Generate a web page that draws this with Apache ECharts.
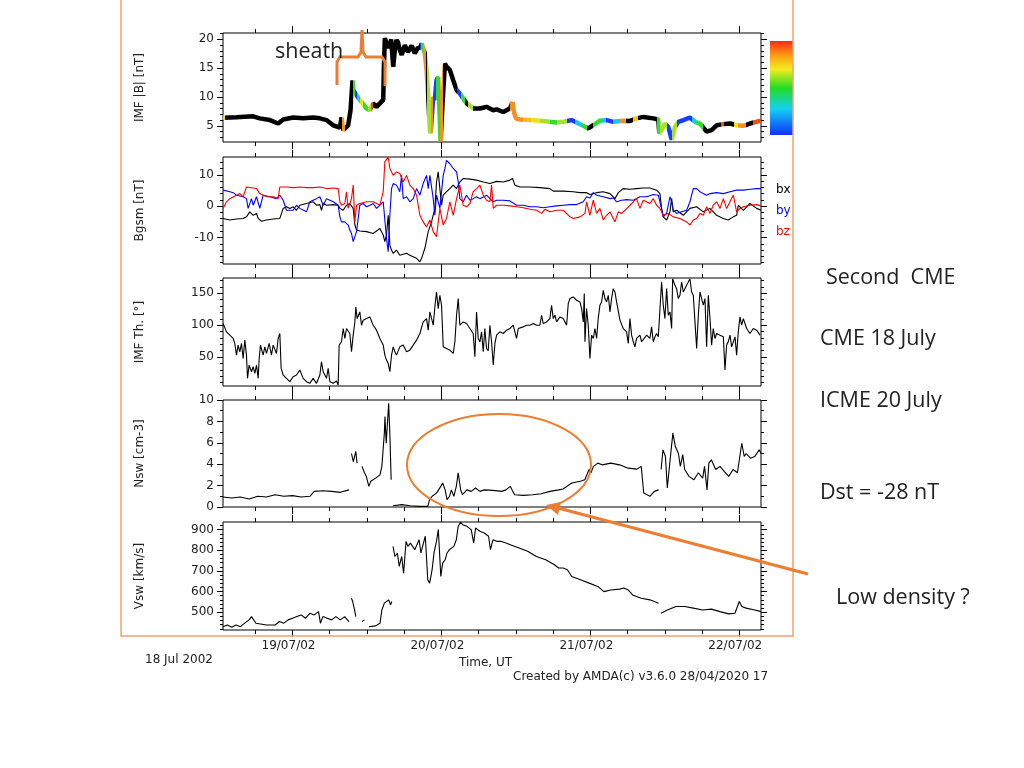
<!DOCTYPE html>
<html>
<head>
<meta charset="utf-8">
<script src="https://cdn.jsdelivr.net/npm/echarts@6/dist/echarts.min.js"></script>
<style>
html, body { margin: 0; padding: 0; background: #fff; }
#chart { width: 1024px; height: 768px; }
</style>
</head>
<body>
<div id="chart"></div>
<script>
// time is in hours from 19/07/2002 00:00 UT
var dayTicks = [0, 24, 48, 72];
var dayLabels = ['19/07/02', '20/07/02', '21/07/02', '22/07/02'];

// IMF |B| [nT]
var bMag = [[-11.18,6.4],[-9.03,6.5],[-6.34,6.65],[-5.27,6.3],[-3.65,6.0],[-2.31,5.4],[-1.5,6.1],[0.11,6.45],[1.72,6.3],[3.33,6.45],[4.41,6.3],[5.48,6.0],[6.56,5.1],[7.63,4.7],[7.9,6.45],[8.17,4.25],[8.97,5.1],[9.35,7.7],[9.67,12.9],[9.78,11.2],[10.05,11.2],[10.32,10.3],[10.85,9.5],[11.93,8.0],[12.47,7.7],[13.0,8.9],[13.54,8.3],[14.08,8.9],[14.62,9.5],[14.72,14.7],[14.88,20.2],[15.15,20.2],[15.4,18.5],[15.69,19.3],[15.9,20.0],[16.23,15.25],[16.5,18.2],[16.76,19.9],[17.0,19.5],[17.3,18.1],[17.6,17.3],[17.84,17.0],[18.1,19.0],[18.38,18.7],[18.6,17.8],[18.91,17.6],[19.2,18.9],[19.45,18.7],[19.7,17.6],[19.99,18.1],[20.2,18.6],[20.53,18.4],[20.8,19.3],[21.33,17.6],[21.6,14.7],[21.87,10.0],[22.14,4.25],[22.25,3.7],[22.68,10.0],[22.94,9.5],[23.21,12.9],[23.48,13.5],[23.64,8.9],[23.86,2.3],[24.18,8.9],[24.56,15.8],[24.82,15.25],[25.36,14.7],[25.9,12.9],[26.44,11.2],[26.97,10.6],[28.05,8.9],[29.12,8.0],[30.2,8.0],[31.27,8.3],[32.35,7.7],[32.89,7.85],[33.96,7.4],[35.03,8.0],[35.46,9.1],[35.68,7.4],[36.0,6.3],[36.65,6.1],[38.26,6.0],[39.87,5.9],[41.48,5.7],[42.56,5.6],[43.64,5.7],[44.98,6.0],[46.32,5.3],[47.66,4.55],[48.47,5.1],[49.54,5.9],[50.62,6.0],[51.69,5.7],[53.3,5.9],[54.38,5.85],[55.45,6.3],[56.53,6.55],[58.14,6.3],[58.95,6.1],[59.11,3.7],[59.48,4.25],[60.02,5.4],[60.56,4.8],[61.1,2.6],[61.63,4.8],[62.17,5.7],[62.98,6.0],[64.05,6.45],[64.86,5.7],[65.66,5.4],[66.74,4.0],[67.54,4.25],[68.35,5.1],[69.43,5.3],[70.5,5.4],[71.57,5.1],[72.65,5.0],[73.72,5.4],[75.5,5.9]];

// colour-coded stretches of the |B| trace: [from, to, colour]; the rest is black
var bColourBands = [[-11.3,-10.9,'yellow'],[7.95,8.4,'orange'],[9.78,10.0,'green'],[10.0,10.4,'blue'],[10.4,10.85,'cyan'],[10.85,11.4,'yellow'],[11.4,12.2,'green'],[12.2,12.6,'lime'],[12.6,13.0,'red'],[20.5,20.75,'blue'],[20.75,21.1,'green'],[21.1,21.5,'orange'],[21.7,22.25,'lime'],[22.25,22.6,'orange'],[22.6,23.2,'blue'],[23.2,23.75,'green'],[23.75,24.2,'orange'],[26.5,27.1,'blue'],[27.1,27.8,'green'],[28.3,29.1,'lime'],[35.1,37.2,'orange'],[37.2,38.5,'amber'],[38.5,39.9,'yellow'],[39.9,41.5,'lime'],[41.5,42.6,'green'],[42.6,44.2,'lime'],[44.2,45.5,'blue'],[45.5,46.6,'cyan'],[46.6,47.4,'green'],[48.5,49.8,'green'],[49.8,50.6,'cyan'],[50.6,51.7,'blue'],[51.7,52.8,'cyan'],[52.8,53.8,'orange'],[54.9,55.7,'amber'],[58.7,59.2,'green'],[59.2,60.3,'lime'],[60.3,61.2,'blue'],[61.2,61.9,'lime'],[61.9,64.3,'blue'],[64.3,65.1,'cyan'],[65.1,66.2,'green'],[69.0,69.6,'red'],[71.1,71.8,'yellow'],[71.8,73.1,'orange'],[74.2,75.6,'red']];

// Bgsm components [nT]
var bx = [[-11.18,-3.9],[-10.1,-4.4],[-9.03,-4.1],[-7.95,-3.9],[-7.42,-3.4],[-6.88,-1.8],[-6.34,-2.9],[-5.8,-2.3],[-5.53,-3.9],[-5.0,-4.8],[-4.19,-4.4],[-3.12,-4.1],[-2.04,-3.9],[-1.77,-2.3],[-1.5,-0.7],[-0.97,-0.2],[-0.43,-0.7],[0.11,-0.2],[0.64,-1.3],[1.18,0.3],[2.26,0.85],[3.33,1.4],[3.87,0.3],[4.41,0.5],[4.67,-1.3],[4.94,0.85],[5.48,0.3],[6.56,0.5],[7.36,0.3],[7.63,-0.7],[8.17,-1.3],[8.7,0.3],[9.24,0.85],[9.78,-0.7],[10.05,-6.0],[10.32,-7.6],[10.85,-7.9],[11.93,-8.1],[13.0,-8.7],[13.54,-7.9],[14.08,-7.1],[14.62,-9.2],[14.88,-11.3],[15.15,-9.2],[15.42,-2.9],[15.69,-12.4],[15.96,-14.0],[16.23,-15.0],[16.76,-14.0],[17.3,-15.6],[18.38,-15.0],[18.91,-15.6],[19.45,-16.1],[19.99,-16.6],[20.53,-17.7],[20.8,-16.6],[21.33,-13.4],[21.87,-8.1],[22.41,-5.0],[22.94,-0.7],[23.21,7.7],[23.48,10.9],[23.75,5.6],[24.02,0.3],[24.29,3.5],[24.82,4.6],[25.36,5.6],[25.9,6.7],[26.44,5.6],[26.97,7.7],[27.51,8.8],[28.59,8.6],[29.66,8.3],[30.74,7.7],[31.81,7.2],[32.89,7.9],[33.96,7.7],[35.03,8.3],[35.46,8.8],[35.84,6.7],[36.65,6.1],[38.26,6.1],[39.87,5.9],[41.48,5.6],[42.02,4.8],[43.64,4.8],[45.24,4.6],[46.32,4.3],[47.39,4.3],[47.93,3.7],[49.01,4.3],[50.08,4.6],[51.16,4.0],[51.96,2.4],[52.5,4.3],[53.3,5.6],[54.38,5.4],[55.45,5.6],[56.53,5.8],[57.6,5.8],[58.68,5.1],[59.21,4.0],[59.48,-0.7],[59.75,-3.4],[60.29,-4.4],[60.83,-1.8],[61.1,2.4],[61.36,-1.8],[61.9,-1.3],[62.98,-2.9],[64.05,-0.7],[65.13,-0.2],[66.2,-1.8],[67.28,-0.7],[68.35,-2.9],[69.43,-3.9],[70.23,-4.4],[71.04,-3.4],[71.57,-2.9],[71.84,0.3],[72.65,-1.3],[73.72,0.85],[74.8,-0.7],[75.5,-1.3]];
var by = [[-11.18,5.1],[-10.1,4.6],[-9.56,4.3],[-9.03,3.5],[-7.95,3.0],[-7.42,2.4],[-7.15,-0.7],[-6.88,-1.3],[-6.61,2.4],[-6.34,0.3],[-5.8,3.0],[-5.27,-0.7],[-4.73,3.5],[-3.65,3.0],[-2.58,2.4],[-2.04,3.5],[-1.5,1.9],[-0.97,-1.3],[0.11,-1.3],[0.64,0.3],[1.18,-0.7],[2.26,-1.8],[2.79,1.4],[3.87,2.4],[4.41,3.0],[4.94,0.3],[5.48,2.4],[6.56,1.4],[7.36,0.3],[7.63,-3.4],[7.9,-5.0],[8.44,-5.0],[8.97,-6.0],[9.24,-7.6],[9.51,-8.7],[9.78,-11.3],[10.32,-8.1],[10.85,0.3],[11.39,0.85],[11.93,-0.2],[12.47,0.3],[13.0,0.85],[13.54,-0.7],[14.08,0.3],[14.62,1.4],[14.88,1.4],[15.15,-10.3],[15.42,-14.5],[15.69,-2.9],[15.96,5.6],[16.23,7.2],[16.76,6.7],[17.3,4.6],[17.57,9.8],[17.84,2.4],[18.38,3.0],[18.91,1.4],[19.45,2.4],[19.99,5.6],[20.53,3.5],[21.06,7.2],[21.6,9.8],[21.87,5.6],[22.14,9.8],[22.68,2.4],[22.94,-2.9],[23.21,3.5],[23.75,-0.7],[24.29,9.8],[24.56,12.0],[24.82,14.6],[25.36,13.5],[25.9,12.0],[26.44,10.9],[26.71,7.7],[26.97,2.4],[27.51,1.4],[28.05,3.5],[28.59,1.9],[29.12,2.4],[29.66,3.0],[30.2,2.4],[31.27,3.5],[32.35,1.4],[32.89,1.9],[33.96,1.9],[35.03,1.7],[36.11,0.3],[37.18,0.3],[38.26,-0.2],[39.33,-0.2],[40.41,-0.5],[41.48,-0.2],[42.56,0.1],[43.64,0.3],[44.71,0.5],[45.78,0.5],[46.86,1.4],[47.39,3.0],[47.93,2.6],[48.47,4.3],[49.01,3.5],[50.08,3.0],[51.16,2.4],[51.69,2.6],[52.23,1.4],[53.04,1.9],[53.84,2.1],[54.92,1.9],[55.99,3.0],[57.07,3.0],[58.14,3.7],[58.95,3.5],[59.21,1.4],[59.75,-3.4],[60.29,-2.3],[60.83,3.0],[61.1,1.4],[61.36,-1.3],[61.9,-2.3],[62.71,-1.8],[63.52,-1.3],[64.05,1.4],[64.59,5.6],[65.13,5.6],[65.66,4.6],[66.2,4.0],[66.74,3.5],[67.28,4.0],[68.35,4.3],[69.43,4.0],[70.5,4.6],[71.57,5.1],[72.65,5.1],[73.72,5.4],[74.8,5.6],[75.5,5.6]];
var bz = [[-11.18,-0.7],[-10.64,1.4],[-10.1,2.4],[-9.03,3.5],[-8.49,4.0],[-7.95,3.0],[-7.42,6.1],[-6.34,5.8],[-5.8,5.6],[-5.27,4.0],[-4.19,3.0],[-3.12,3.0],[-2.31,2.4],[-2.04,6.1],[-0.97,6.1],[0.11,5.9],[1.18,6.1],[2.26,5.9],[3.33,5.9],[4.41,6.1],[5.48,5.6],[6.56,5.8],[7.36,5.6],[7.63,1.4],[7.9,0.3],[8.44,0.85],[8.7,4.6],[8.97,-0.7],[9.51,2.4],[9.78,6.7],[10.05,-5.0],[10.32,0.3],[10.85,0.85],[11.93,1.4],[13.0,1.4],[14.08,0.3],[14.62,4.6],[14.88,14.1],[15.15,14.6],[15.42,15.6],[15.69,12.0],[16.23,9.8],[16.76,10.9],[17.3,10.4],[17.84,7.7],[18.38,9.8],[18.91,6.7],[19.45,5.6],[19.99,3.5],[20.53,-2.9],[21.06,-5.0],[21.6,-6.6],[22.14,-4.4],[22.68,-8.1],[23.21,-9.7],[23.75,-0.7],[24.29,-6.0],[24.82,-3.9],[25.36,1.4],[25.9,-2.9],[26.44,2.4],[26.97,6.7],[27.51,0.3],[28.05,-0.2],[28.59,0.85],[29.12,4.6],[29.66,5.6],[30.2,6.7],[30.74,3.5],[31.27,1.9],[31.81,1.4],[32.08,6.7],[32.35,-0.7],[32.89,0.3],[33.96,0.3],[35.03,0.1],[36.11,-0.2],[37.18,-0.5],[38.26,-1.0],[39.33,-1.3],[40.14,-2.3],[40.67,-1.0],[41.48,-1.8],[42.56,-1.3],[43.64,-1.3],[44.71,-3.4],[45.24,-3.9],[46.32,-3.4],[47.13,-2.3],[47.39,1.4],[47.93,-2.9],[48.47,1.9],[49.01,-2.3],[49.54,-0.7],[50.08,-4.4],[50.62,-2.9],[51.16,-1.8],[51.96,-5.0],[52.5,-1.8],[53.04,-2.3],[53.57,-1.3],[54.38,0.3],[55.45,2.4],[55.99,-0.7],[56.53,1.9],[57.6,0.85],[58.14,2.4],[58.68,0.3],[59.21,-0.7],[59.75,-2.9],[60.56,-2.3],[61.36,-3.4],[62.44,-3.9],[63.52,-5.0],[64.05,-6.0],[64.59,-4.4],[65.13,-3.9],[65.66,-2.3],[66.2,-2.9],[66.74,-0.2],[67.28,-2.3],[67.81,0.3],[68.35,1.4],[68.89,-0.7],[69.43,2.4],[69.96,-0.7],[70.5,1.4],[71.04,3.5],[71.57,-1.8],[72.11,-0.7],[72.65,-0.2],[73.72,0.3],[74.8,0.5],[75.5,0.1]];

// IMF theta [deg]
var theta = [[-11.18,102.6],[-10.64,89.6],[-10.1,84.4],[-9.56,79.2],[-9.3,71.4],[-9.03,53.1],[-8.76,68.8],[-8.49,58.3],[-8.22,71.4],[-7.95,47.9],[-7.68,76.6],[-7.42,53.1],[-7.25,16.7],[-6.99,37.5],[-6.61,27.1],[-6.34,34.9],[-6.07,24.5],[-5.8,37.5],[-5.53,16.7],[-5.37,47.9],[-5.16,68.8],[-4.73,53.1],[-4.46,66.1],[-4.19,55.7],[-3.76,71.4],[-3.39,53.1],[-3.12,68.8],[-2.85,66.1],[-2.58,55.7],[-2.31,79.2],[-2.04,87.0],[-1.83,32.3],[-1.5,21.9],[-0.97,16.7],[-0.43,11.5],[0.11,19.3],[0.64,21.9],[1.18,29.7],[1.72,16.7],[2.26,11.5],[2.79,8.9],[3.33,16.7],[3.87,8.9],[4.41,21.9],[4.67,42.7],[4.94,27.1],[5.48,16.7],[5.75,32.3],[6.02,11.5],[6.56,8.9],[7.09,12.5],[7.36,6.3],[7.52,68.8],[7.9,74.0],[8.17,94.8],[8.44,79.2],[8.7,94.8],[9.24,87.0],[9.51,58.3],[9.78,84.4],[10.05,105.2],[10.21,128.6],[10.42,110.4],[10.85,120.8],[11.12,100.0],[11.39,107.8],[11.93,110.4],[12.47,113.0],[13.0,100.0],[13.54,92.2],[14.08,79.2],[14.62,68.8],[14.88,53.1],[15.15,45.3],[15.42,40.1],[15.69,27.1],[15.96,53.1],[16.23,66.1],[16.5,58.3],[16.76,53.1],[17.3,66.1],[17.84,68.8],[18.38,58.3],[18.91,60.9],[19.45,68.8],[19.99,76.6],[20.53,87.0],[21.06,105.2],[21.6,110.4],[21.87,92.2],[22.14,120.8],[22.68,100.0],[22.94,128.6],[23.21,152.1],[23.48,126.0],[23.75,146.9],[24.02,131.3],[24.29,66.1],[24.82,63.5],[25.36,60.9],[25.9,55.7],[26.17,74.0],[26.44,115.6],[26.71,141.7],[26.97,100.0],[27.51,105.2],[28.05,102.6],[28.59,94.8],[29.12,87.0],[29.39,50.5],[29.66,120.8],[29.93,79.2],[30.2,74.0],[30.47,89.6],[30.74,58.3],[31.0,94.8],[31.27,63.5],[31.54,60.0],[31.81,100.0],[32.08,74.0],[32.35,37.5],[32.62,71.4],[32.89,84.4],[33.42,89.6],[33.96,87.0],[34.5,92.2],[35.03,94.8],[35.57,100.0],[35.84,89.6],[36.11,79.2],[36.38,94.8],[36.65,92.2],[37.18,97.4],[37.72,100.0],[38.26,100.0],[38.8,102.6],[39.33,100.0],[39.87,100.0],[40.14,115.6],[40.41,102.6],[40.95,105.2],[41.48,110.4],[41.75,131.3],[42.02,110.4],[42.29,115.6],[42.56,105.2],[43.1,113.0],[43.64,110.4],[44.17,100.0],[44.44,133.9],[44.71,141.7],[45.24,144.3],[45.78,139.1],[46.32,136.5],[46.59,126.0],[46.86,105.2],[47.02,149.5],[47.13,74.0],[47.39,126.0],[47.66,100.0],[47.93,47.9],[48.2,84.4],[48.47,79.2],[48.74,94.8],[49.01,79.2],[49.27,110.4],[49.54,131.3],[49.81,136.5],[50.08,154.7],[50.35,141.7],[50.62,136.5],[50.89,146.9],[51.16,120.8],[51.42,141.7],[51.69,157.3],[51.96,152.1],[52.23,136.5],[52.77,108.0],[53.3,94.8],[53.84,89.6],[54.11,71.4],[54.38,110.4],[54.65,84.4],[54.92,74.0],[55.19,66.1],[55.45,79.2],[55.99,84.4],[56.26,74.0],[56.53,76.6],[57.07,84.4],[57.6,79.2],[57.87,97.4],[58.14,74.0],[58.41,81.8],[58.68,87.0],[58.95,81.8],[59.21,84.4],[59.48,167.7],[59.75,131.3],[60.02,110.4],[60.29,157.3],[60.56,115.6],[60.83,120.8],[61.1,94.8],[61.26,172.9],[61.63,162.5],[61.9,157.3],[62.17,141.7],[62.44,146.9],[62.71,167.7],[62.98,152.1],[63.52,162.5],[64.05,172.9],[64.32,152.1],[64.59,146.9],[64.86,105.2],[65.13,63.5],[65.4,115.6],[65.66,152.1],[65.93,141.7],[66.2,131.3],[66.47,141.7],[66.74,66.1],[67.01,146.9],[67.28,110.4],[67.54,68.8],[67.81,94.8],[68.08,79.2],[68.35,87.0],[68.89,84.4],[69.43,81.8],[69.69,29.7],[69.96,68.8],[70.23,74.0],[70.5,84.4],[70.77,66.1],[71.31,81.8],[71.57,53.1],[71.84,89.6],[72.11,113.0],[72.38,100.0],[72.65,110.4],[73.19,94.8],[73.72,87.0],[74.26,94.8],[74.8,92.2],[75.34,84.4]];

// solar wind density [cm-3], null = data gap
var nsw = [[-11.2,0.93],[-9.8,0.84],[-8.4,0.93],[-7.0,0.75],[-5.6,1.0],[-4.2,0.93],[-2.8,1.15],[-1.4,1.0],[0,1.06],[1.4,0.93],[2.8,1.0],[3.5,1.46],[4.9,1.52],[6.3,1.46],[7.7,1.37],[9.1,1.6],[9.3,null],[9.5,5.0],[9.8,4.25],[10.2,5.2],[10.4,4.1],[10.8,null],[11.2,3.8],[11.6,3.2],[11.9,2.86],[12.3,1.93],[12.6,2.4],[13.4,2.7],[14.1,3.0],[14.4,3.8],[14.8,6.9],[14.9,8.45],[15.1,5.96],[15.5,9.7],[15.7,6.6],[15.9,2.55],[16.0,null],[16.2,0.12],[17.6,0.22],[19.0,0.12],[20.4,0.06],[21.8,0.06],[22.1,0.68],[22.5,1.0],[23.2,1.3],[23.9,1.93],[24.2,2.24],[24.6,1.6],[24.9,0.68],[25.3,1.0],[25.6,1.6],[26.0,1.0],[26.4,1.93],[26.7,3.2],[27.1,1.6],[27.4,1.15],[28.1,1.6],[28.8,1.46],[29.5,1.77],[30.2,1.46],[30.9,1.6],[32.3,1.55],[33.7,1.46],[34.4,1.6],[35.1,1.93],[35.5,1.46],[35.8,1.15],[37.2,1.09],[38.7,1.15],[40.1,1.24],[41.5,1.46],[42.9,1.6],[43.6,1.68],[45.0,2.24],[46.4,2.4],[47.1,2.55],[47.8,3.5],[48.1,3.2],[48.5,3.8],[49.2,4.1],[49.9,3.94],[51.3,4.1],[52.7,3.94],[54.1,3.63],[55.5,3.54],[56.2,3.8],[56.6,1.3],[56.9,1.15],[57.6,1.0],[58.3,1.46],[59.0,1.6],[59.2,null],[59.4,3.5],[59.7,5.34],[60.1,4.72],[60.4,1.77],[60.8,4.1],[61.3,6.9],[61.7,5.65],[62.2,5.0],[62.5,3.8],[62.9,4.9],[63.2,3.5],[63.9,2.86],[64.7,2.55],[65.4,3.2],[66.1,2.7],[66.4,3.8],[66.8,1.6],[67.1,4.1],[67.5,4.41],[68.2,3.5],[68.9,3.8],[69.6,3.3],[70.3,2.86],[71.0,3.5],[71.7,3.2],[72.4,5.96],[72.8,4.72],[73.1,5.0],[73.8,4.56],[74.5,4.72],[75.2,5.34],[75.5,5.0]];

// solar wind speed [km/s], null = data gap
var vsw = [[-11.2,430],[-10.5,438],[-9.8,427],[-9.1,438],[-8.4,430],[-7.7,447],[-7.0,463],[-6.6,479],[-6.3,487],[-5.9,447],[-5.6,438],[-4.2,438],[-2.8,438],[-2.1,455],[-1.4,447],[-0.7,463],[0,471],[0.7,479],[1.4,487],[2.1,471],[2.8,495],[3.5,487],[4.2,503],[4.5,447],[4.9,479],[5.6,471],[6.3,463],[7.0,479],[7.7,463],[8.4,479],[9.1,455],[9.3,null],[9.5,568],[9.7,552],[10.0,511],[10.2,479],[10.4,null],[11.2,455],[11.6,463],[11.8,null],[12.3,430],[13.4,434],[14.1,447],[14.4,511],[14.8,544],[15.1,536],[15.5,560],[15.8,536],[16.0,552],[16.1,null],[16.2,819],[16.5,770],[16.9,787],[17.2,722],[17.6,770],[17.9,689],[18.3,843],[18.6,819],[19.0,835],[19.7,803],[20.4,851],[20.7,787],[21.1,835],[21.4,868],[21.8,657],[22.1,641],[22.5,706],[22.8,787],[23.2,843],[23.5,900],[23.9,673],[24.2,738],[24.6,754],[24.9,787],[25.3,803],[26.0,819],[26.4,851],[26.7,916],[27.1,936],[27.4,924],[28.1,916],[28.8,900],[29.2,835],[29.5,908],[30.2,892],[30.9,884],[31.6,868],[31.9,803],[32.3,851],[33.0,843],[33.7,843],[34.4,835],[35.1,827],[36.5,811],[37.9,795],[39.3,770],[40.8,754],[42.2,730],[42.9,714],[43.6,714],[44.3,706],[45.0,673],[46.4,657],[47.8,641],[49.2,625],[50.2,600],[51.3,608],[52.7,612],[53.4,617],[54.1,608],[54.8,584],[56.2,568],[57.6,560],[59.0,544],[59.1,null],[59.4,495],[60.4,511],[61.8,528],[63.2,528],[64.6,520],[66.1,511],[67.5,515],[68.9,503],[70.3,492],[71.3,495],[71.7,528],[72.0,552],[72.4,528],[73.1,520],[74.5,511],[75.5,503]];

// y tick labels per panel
var bTicks = [5, 10, 15, 20];
var bgsmTicks = [-10, 0, 10];
var thetaTicks = [50, 100, 150];
var nTicks = [0, 2, 4, 6, 8, 10];
var vTicks = [500, 600, 700, 800, 900];

var rainbow = { blue: '#1a3cff', cyan: '#18c8f0', green: '#30dc30', lime: '#a8e030', yellow: '#f0e020', amber: '#f8c020', orange: '#f59020', red: '#e8501c' };
var font = 'DejaVu Sans';
var orange = '#ED7D31';
var xMin = -11.2, xMax = 75.5;

var panels = [
    { top: 33, height: 109, min: 2.2, max: 21.1, ticks: bTicks, minor: 1, name: 'IMF |B| [nT]' },
    { top: 157, height: 107, min: -18.4, max: 15.65, ticks: bgsmTicks, minor: 2, name: 'Bgsm [nT]' },
    { top: 278, height: 108, min: 4.7, max: 174, ticks: thetaTicks, minor: 10, name: 'IMF Th. [°]' },
    { top: 400, height: 107, min: 0, max: 10, ticks: nTicks, minor: 1, name: 'Nsw [cm-3]' },
    { top: 522, height: 108, min: 414, max: 937, ticks: vTicks, minor: 20, name: 'Vsw [km/s]' }
];

var sixHours = [];
for (var k = -1; k * 6 < xMax; k++) {
    if (k % 4 !== 0) sixHours.push(k * 6);
}

function minorTicks(p) {
    var out = [];
    var n0 = Math.ceil(p.min / p.minor), n1 = Math.floor(p.max / p.minor);
    for (var n = n0; n <= n1; n++) {
        var v = n * p.minor;
        if (p.ticks.indexOf(v) < 0) out.push(v);
    }
    return out;
}

var grids = [], xAxes = [], yAxes = [], graphics = [];
panels.forEach(function (p, i) {
    grids.push({ left: 223, right: 263, top: p.top, height: p.height, show: true, borderColor: '#000', borderWidth: 1 });
    var last = i === panels.length - 1;
    [['bottom', dayTicks, 7], ['bottom', sixHours, 4], ['top', dayTicks, 7], ['top', sixHours, 4]].forEach(function (a, j) {
        xAxes.push({
            type: 'value', gridIndex: i, position: a[0], min: xMin, max: xMax,
            axisLine: { show: false, onZero: false },
            splitLine: { show: false },
            axisTick: { show: true, inside: false, length: a[2], customValues: a[1], lineStyle: { color: '#000' } },
            axisLabel: {
                show: last && j === 0, customValues: dayTicks, margin: 10,
                fontFamily: font, fontSize: 12, color: '#222', padding: [0, 8, 0, 0],
                formatter: function (v) { return dayLabels[dayTicks.indexOf(v)] || ''; }
            }
        });
    });
    var minors = minorTicks(p);
    [['left', p.ticks, 6], ['left', minors, 3], ['right', p.ticks, 6], ['right', minors, 3]].forEach(function (a, j) {
        yAxes.push({
            type: 'value', gridIndex: i, position: a[0], min: p.min, max: p.max,
            axisLine: { show: false, onZero: false },
            splitLine: { show: false },
            axisTick: { show: true, inside: false, length: a[2], customValues: a[1], lineStyle: { color: '#000' } },
            axisLabel: { show: j === 0, customValues: p.ticks, margin: 9, fontFamily: font, fontSize: 12, color: '#222' }
        });
    });
    graphics.push({
        type: 'text', x: 140, y: p.top + p.height / 2, rotation: Math.PI / 2,
        style: { text: p.name, fontFamily: font, fontSize: 12, fill: '#222', align: 'center', verticalAlign: 'middle' }
    });
});

function lineSeries(panel, data, color, width) {
    var s = {
        type: 'line', xAxisIndex: panel * 4, yAxisIndex: panel * 4, data: data,
        showSymbol: false, connectNulls: false, animation: false,
        lineStyle: { width: width }
    };
    if (color) {
        s.lineStyle.color = color;
        s.itemStyle = { color: color };
    }
    return s;
}

var series = [
    lineSeries(0, bMag, null, 4.5), // colour comes from the visualMap below
    lineSeries(1, bx, '#000', 1.1),
    lineSeries(1, by, '#0000ff', 1.1),
    lineSeries(1, bz, '#ff0000', 1.1),
    lineSeries(2, theta, '#000', 1.1),
    lineSeries(3, nsw, '#000', 1.1),
    lineSeries(4, vsw, '#000', 1.1)
];

function txt(x, y, s, size, color, extra) {
    var st = { text: s, fontFamily: 'Open Sans', fontSize: size, fill: color || '#222', align: 'left', verticalAlign: 'middle' };
    if (extra) for (var key in extra) st[key] = extra[key];
    return { type: 'text', x: x, y: y, z: 100, style: st };
}

graphics.push(
    // outer orange frame
    { type: 'polyline', z: 100, shape: { points: [[121, 0], [121, 636], [793, 636], [793, 0]] }, style: { stroke: '#F2A36E', lineWidth: 1.5, fill: null } },
    // colour bar of panel 1
    { type: 'rect', z: 90, shape: { x: 770, y: 41, width: 23, height: 94 },
      style: { fill: new echarts.graphic.LinearGradient(0, 0, 0, 1, [
          { offset: 0, color: '#ff2a1a' }, { offset: 0.15, color: '#ff9a10' }, { offset: 0.3, color: '#f2ec20' },
          { offset: 0.5, color: '#22dc22' }, { offset: 0.72, color: '#12d2f2' }, { offset: 1, color: '#1030ff' }]) } },
    // sheath brace
    { type: 'polyline', z: 100, shape: { points: [[337, 85], [337, 62], [340, 57], [358, 57], [361, 52], [362, 30], [363, 52], [366, 57], [382, 57], [385, 62], [385, 86]] },
      style: { stroke: orange, lineWidth: 3, fill: null } },
    // low density ellipse and arrow
    { type: 'ellipse', z: 100, shape: { cx: 499, cy: 465, rx: 92, ry: 51 }, style: { stroke: orange, lineWidth: 2, fill: null } },
    { type: 'line', z: 100, shape: { x1: 808, y1: 574, x2: 558, y2: 508 }, style: { stroke: orange, lineWidth: 3 } },
    { type: 'polygon', z: 100, shape: { points: [[546, 505], [561, 502], [558, 515]] }, style: { fill: orange } },
    txt(275, 52, 'sheath', 21.5, '#222'),
    txt(826, 278, 'Second  CME', 21.5),
    txt(820, 339, 'CME 18 July', 21.5),
    txt(820, 401, 'ICME 20 July', 21.5),
    txt(820, 493, 'Dst = -28 nT', 21.5),
    txt(836, 598, 'Low density ?', 21.5),
    txt(776, 190, 'bx', 12, '#000', { fontFamily: font }),
    txt(776, 211, 'by', 12, '#0000ff', { fontFamily: font }),
    txt(776, 232, 'bz', 12, '#ff0000', { fontFamily: font }),
    txt(145, 660, '18 Jul 2002', 12, '#222', { fontFamily: font }),
    txt(459, 663, 'Time, UT', 12, '#222', { fontFamily: font }),
    txt(513, 677, 'Created by AMDA(c) v3.6.0 28/04/2020 17', 12, '#222', { fontFamily: font })
);

var chart = echarts.init(document.getElementById('chart'));
chart.setOption({
    backgroundColor: '#fff',
    animation: false,
    grid: grids,
    xAxis: xAxes,
    yAxis: yAxes,
    visualMap: [{
        type: 'piecewise', show: false, seriesIndex: 0, dimension: 0,
        pieces: bColourBands.map(function (b) { return { gte: b[0], lt: b[1], color: rainbow[b[2]] }; }),
        outOfRange: { color: '#000' }
    }],
    series: series,
    graphic: graphics
});
</script>
</body>
</html>
